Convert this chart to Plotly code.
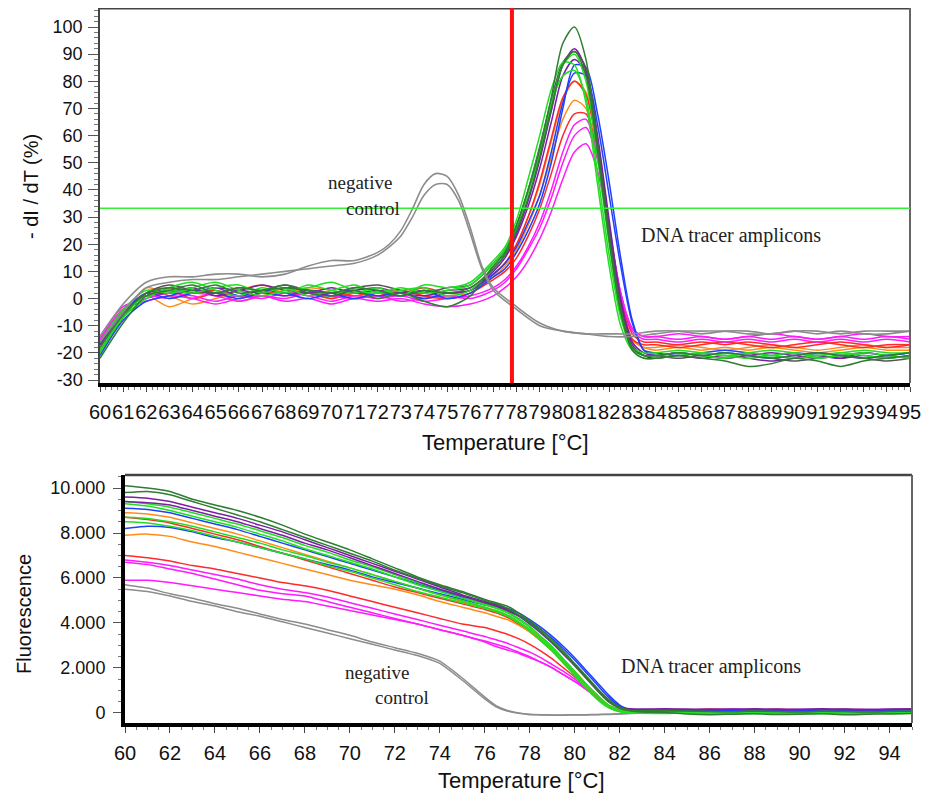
import plotly.graph_objects as go

W, H = 935, 796          # browser window
OFF = 8                  # default page body margin
FW, FH = W - OFF, H - OFF

# ---------------- data: top panel (melting peaks, -dI/dT %) ----------------
T_TOP = [60, 61, 62, 63, 64, 65, 66, 67, 68, 69, 70, 71, 72, 73, 74, 75, 76, 77,
         77.5, 78, 78.5, 79, 79.5, 80, 80.5, 81, 81.5, 82, 82.5, 83, 83.5,
         84, 85, 86, 87, 88, 89, 90, 91, 92, 93, 94, 95]

dkgreen_a = [-22, -9, 1, 3, 5, 2, 4, 3, 5, 2, 1, 3, 0, 2, -1, -3, 1, 12,
             17, 27, 40, 55, 74, 94, 100, 88, 55, 22, -5, -19, -22,
             -22, -21, -22, -23, -25, -24, -22, -23, -25, -23, -22, -21]
dkgreen_b = [-18, -6, 2, 4, 3, 5, 2, 3, 4, 3, 2, 4, 3, 1, 3, 2, 4, 11,
             16, 25, 37, 52, 70, 86, 91, 82, 54, 22, -4, -18, -21,
             -21, -20, -21, -20, -21, -22, -21, -20, -21, -22, -21, -20]
green_a = [-20, -7, 0, 4, 6, 3, 1, 4, 2, 5, 3, 2, 4, 1, 5, 4, 6, 14,
           19, 29, 44, 60, 77, 87, 86, 72, 42, 12, -10, -19, -21,
           -21, -20, -21, -22, -20, -21, -22, -21, -20, -21, -22, -21]
green_b = [-16, -4, 3, 2, 4, 6, 3, 1, 3, 4, 6, 3, 2, 4, 2, 3, 5, 13,
           18, 27, 40, 55, 72, 82, 84, 74, 46, 16, -7, -18, -20,
           -20, -19, -20, -21, -20, -19, -20, -21, -20, -19, -20, -20]
green_c = [-19, -6, 1, 3, 2, 4, 5, 2, 4, 1, 3, 5, 2, 3, 4, 1, 3, 12,
           17, 26, 39, 53, 71, 86, 90, 80, 52, 20, -6, -19, -22,
           -22, -21, -20, -21, -22, -21, -20, -22, -21, -20, -21, -22]
blue_a = [-21, -8, -1, 1, 3, 2, 0, 2, 1, 3, 2, 0, 2, 1, 3, 0, 2, 8,
          11, 17, 25, 35, 50, 70, 86, 85, 68, 43, 15, -8, -19,
          -21, -20, -21, -20, -21, -22, -21, -20, -21, -22, -21, -20]
blue_b = [-17, -5, 2, 0, 2, 4, 1, 3, 2, 0, 2, 3, 1, 2, 0, 2, 3, 9,
          13, 19, 28, 38, 54, 72, 83, 82, 64, 38, 12, -9, -19,
          -20, -21, -20, -19, -20, -21, -20, -21, -22, -20, -21, -20]
purple_a = [-19, -6, 2, 3, 2, 4, 3, 5, 3, 2, 4, 2, 3, 2, 1, 3, 4, 11,
            16, 24, 36, 51, 69, 86, 92, 84, 58, 26, -2, -17, -21,
            -22, -21, -22, -21, -22, -23, -22, -21, -22, -21, -22, -21]
purple_b = [-17, -5, 1, 2, 4, 1, 3, 2, 4, 3, 1, 3, 4, 2, 3, 2, 3, 10,
            15, 23, 34, 48, 65, 82, 88, 83, 60, 29, 0, -16, -20,
            -21, -20, -21, -22, -21, -20, -21, -22, -21, -20, -21, -22]
orange_a = [-18, -6, 4, 1, -2, 0, 3, 5, 2, 4, 3, 1, 2, 3, 1, 2, 3, 9,
            13, 20, 30, 42, 58, 73, 80, 76, 55, 26, 0, -15, -18,
            -19, -18, -19, -18, -19, -18, -19, -20, -19, -18, -19, -19]
orange_b = [-16, -4, 1, -3, 0, 2, -1, 1, 3, 2, 0, 2, 1, 2, 0, 1, 2, 8,
            12, 18, 27, 38, 52, 66, 73, 70, 52, 24, -1, -15, -18,
            -18, -17, -18, -19, -18, -17, -18, -19, -18, -17, -18, -18]
red_a = [-17, -5, 2, 4, 2, 3, 1, 2, 4, 3, 2, 1, 3, 2, 4, 2, 3, 9,
         13, 20, 30, 43, 59, 74, 80, 75, 54, 25, -1, -15, -17,
         -17, -18, -17, -16, -17, -18, -17, -16, -17, -18, -17, -17]
red_b = [-15, -4, 1, 3, 0, 2, 1, 3, 1, 2, 0, 2, 1, 3, 1, 0, 2, 7,
         10, 15, 23, 33, 46, 60, 68, 68, 52, 26, 1, -13, -16,
         -16, -17, -16, -17, -16, -17, -18, -17, -16, -17, -18, -17]
magenta_a = [-14, -3, 0, 2, 1, -1, 1, 0, 2, 1, -1, 1, 0, 1, -1, 0, 1, 4,
             7, 12, 19, 28, 40, 54, 64, 66, 52, 27, 2, -11, -14,
             -14, -15, -14, -15, -14, -15, -14, -15, -14, -15, -14, -15]
magenta_b = [-16, -4, 1, 0, 2, 1, -1, 1, 0, 2, 1, 0, 1, -1, 0, 1, 0, 3,
             6, 11, 18, 26, 37, 50, 60, 63, 51, 26, 2, -12, -15,
             -15, -16, -15, -16, -15, -16, -15, -16, -15, -16, -15, -16]
magenta_c = [-15, -4, -1, 1, 0, -2, 0, 1, -1, 0, -2, 0, -1, 0, -2, -3, -2, 1,
             4, 8, 14, 22, 32, 44, 54, 57, 47, 25, 2, -11, -14,
             -14, -13, -14, -15, -14, -13, -14, -15, -14, -13, -14, -14]
dkgray_a = [-20, -7, 2, 5, 3, 2, 4, 3, 5, 3, 2, 4, 5, 3, 2, 4, 5, 13,
            18, 27, 40, 56, 73, 87, 91, 85, 58, 25, -3, -18, -21,
            -21, -22, -21, -22, -21, -22, -23, -22, -21, -22, -23, -22]

T_NEG = [60, 61, 62, 63, 64, 65, 66, 67, 68, 69, 70, 71, 72, 72.5, 73, 73.5, 74,
         74.5, 75, 75.5, 76, 76.5, 77, 78, 79, 80, 81, 82, 83, 84, 85, 86, 87,
         88, 89, 90, 91, 92, 93, 94, 95]
neg_a = [-14, -2, 6, 8, 8, 9, 9, 8, 9, 12, 14, 14, 17, 20, 25, 33, 42,
         46, 45, 38, 26, 12, 4, -3, -9, -12, -13, -13, -13, -12, -12, -13, -12,
         -12, -13, -12, -12, -13, -12, -12, -12]
neg_b = [-16, -5, 4, 6, 7, 7, 8, 9, 10, 11, 12, 13, 16, 19, 23, 30, 38,
         42, 42, 36, 24, 11, 3, -4, -10, -12, -13, -14, -14, -13, -12, -12, -12,
         -13, -13, -12, -13, -12, -13, -13, -12]

TOP_SERIES = [
    ("#ff8c1a", orange_a), ("#ff8c1a", orange_b),
    ("#ff2a2a", red_a), ("#ff2a2a", red_b),
    ("#ff1aff", magenta_a), ("#ff1aff", magenta_b), ("#ff1aff", magenta_c),
    ("#2040ff", blue_a), ("#2040ff", blue_b),
    ("#7b1fa2", purple_a), ("#7b1fa2", purple_b),
    ("#555555", dkgray_a),
    ("#22dd22", green_a), ("#22dd22", green_b), ("#22dd22", green_c),
    ("#2e7d32", dkgreen_a), ("#2e7d32", dkgreen_b),
]
NEG_SERIES = [neg_a, neg_b]

THRESHOLD_Y = 33.3     # green horizontal threshold
MARKER_T = 77.8        # red vertical cursor

Y_TOP_TICKS = [-30, -20, -10, 0, 10, 20, 30, 40, 50, 60, 70, 80, 90, 100]
Y_TOP_LABELS = ["-30", "-20", "-10", "0", "10", "20", "30", "40", "50",
                "60", "70", "80", "90", "100"]
X_TOP_TICKS = list(range(60, 96))

# ---------------- data: bottom panel (fluorescence) ----------------
T_BOT = [60, 61, 62, 63, 64, 65, 66, 67, 68, 69, 70, 71, 72, 73, 74, 75, 76,
         76.5, 77, 77.5, 78, 78.5, 79, 79.5, 80, 80.5, 81, 81.5, 82, 82.5, 83,
         84, 85, 86, 87, 88, 89, 90, 91, 92, 93, 94, 95]

f_dkgreen_a = [10100, 10000, 9850, 9500, 9250, 9000, 8700, 8350, 7950, 7600, 7250, 6850, 6450, 6050, 5700, 5400, 5050,
               4900, 4750, 4450, 4100, 3700, 3250, 2750, 2200, 1650, 1100, 600, 250, 120, 100,
               120, 80, 60, 50, 80, 60, 40, 70, 60, 40, 60, 80]
f_dkgreen_b = [9800, 9850, 9700, 9400, 9100, 8800, 8500, 8150, 7800, 7450, 7100, 6750, 6350, 6000, 5650, 5350, 5000,
               4850, 4650, 4350, 4000, 3600, 3150, 2650, 2100, 1550, 1000, 500, 200, 80, 40,
               20, -50, -80, -60, -40, -70, -60, -40, -80, -60, -50, -30]
f_purple_a = [9600, 9550, 9400, 9150, 8900, 8650, 8350, 8050, 7700, 7350, 7000, 6650, 6300, 5950, 5600, 5250, 4950,
              4800, 4600, 4350, 4000, 3600, 3150, 2650, 2150, 1600, 1050, 550, 250, 180, 170,
              180, 170, 160, 170, 180, 170, 160, 180, 170, 160, 170, 180]
f_purple_b = [9400, 9350, 9250, 9000, 8750, 8500, 8200, 7900, 7550, 7250, 6900, 6550, 6200, 5850, 5500, 5200, 4900,
              4750, 4550, 4300, 3950, 3550, 3100, 2600, 2100, 1550, 1000, 500, 220, 150, 140,
              150, 140, 150, 160, 150, 140, 150, 160, 150, 140, 150, 160]
f_green_a = [9400, 9300, 9150, 8900, 8650, 8400, 8100, 7800, 7450, 7150, 6800, 6500, 6150, 5800, 5500, 5200, 4850,
             4700, 4500, 4200, 3850, 3400, 2950, 2400, 1850, 1300, 800, 350, 120, 40, 20,
             10, -20, 0, 20, -10, 0, 10, -20, 0, 10, -10, 0]
f_green_b = [9300, 9200, 9000, 8750, 8500, 8250, 7950, 7650, 7300, 7000, 6700, 6400, 6050, 5700, 5400, 5100, 4800,
             4650, 4450, 4150, 3800, 3350, 2900, 2350, 1800, 1250, 750, 330, 100, 30, 10,
             20, 40, 10, -10, 20, 30, 0, 10, 30, 20, 0, 10]
f_green_c = [8700, 8650, 8500, 8300, 8050, 7800, 7550, 7250, 7000, 6700, 6450, 6150, 5850, 5550, 5250, 5000, 4700,
             4550, 4350, 4050, 3700, 3250, 2800, 2250, 1700, 1150, 650, 250, 60, 0, -20,
             -30, -10, -40, -20, -30, -10, -40, -30, -20, -10, -30, -20]
f_green_d = [8500, 8450, 8300, 8100, 7850, 7600, 7350, 7100, 6850, 6550, 6300, 6000, 5700, 5400, 5150, 4900, 4650,
             4500, 4300, 4000, 3650, 3200, 2750, 2200, 1650, 1100, 600, 230, 50, 10, 0,
             -10, 10, -20, 0, -10, 10, -20, 0, 10, -10, 0, -20]
f_blue_a = [9100, 9050, 8900, 8650, 8400, 8150, 7850, 7550, 7250, 6950, 6650, 6350, 6050, 5750, 5450, 5150, 4900,
            4800, 4650, 4450, 4150, 3800, 3400, 2950, 2450, 1900, 1350, 800, 350, 120, 80,
            90, 80, 100, 90, 80, 90, 100, 80, 90, 100, 90, 80]
f_blue_b = [8200, 8300, 8250, 8050, 7800, 7600, 7350, 7100, 6850, 6600, 6350, 6050, 5800, 5550, 5300, 5050, 4800,
            4700, 4550, 4350, 4050, 3700, 3300, 2850, 2350, 1800, 1250, 700, 300, 100, 70,
            80, 70, 90, 80, 70, 80, 90, 70, 80, 90, 80, 70]
f_orange_a = [8900, 8850, 8700, 8450, 8200, 7950, 7650, 7350, 7050, 6750, 6450, 6150, 5850, 5550, 5250, 4950, 4700,
              4550, 4350, 4050, 3700, 3300, 2850, 2350, 1850, 1300, 800, 350, 150, 120, 110,
              120, 110, 130, 120, 110, 120, 130, 110, 120, 130, 120, 110]
f_orange_b = [7900, 7950, 7850, 7600, 7400, 7150, 6900, 6650, 6400, 6150, 5900, 5700, 5500, 5250, 4950, 4700, 4450,
              4300, 4150, 3900, 3600, 3200, 2750, 2250, 1750, 1250, 750, 320, 130, 100, 90,
              100, 90, 110, 100, 90, 100, 110, 90, 100, 110, 100, 90]
f_red_a = [8700, 8600, 8450, 8200, 7950, 7700, 7400, 7100, 6800, 6500, 6200, 5900, 5600, 5350, 5100, 4850, 4600,
           4450, 4250, 3950, 3600, 3200, 2750, 2250, 1750, 1250, 750, 320, 150, 130, 120,
           150, 130, 170, 140, 120, 160, 140, 130, 160, 140, 130, 150]
f_red_b = [7000, 6900, 6750, 6550, 6400, 6200, 6000, 5800, 5650, 5450, 5200, 4950, 4700, 4450, 4200, 3950, 3800,
           3650, 3500, 3300, 3050, 2750, 2400, 2000, 1600, 1150, 700, 330, 150, 120, 110,
           130, 120, 110, 140, 120, 130, 110, 120, 140, 130, 120, 130]
f_magenta_a = [6800, 6700, 6550, 6350, 6150, 5950, 5700, 5500, 5350, 5150, 4900, 4650, 4400, 4150, 3900, 3650, 3400,
               3250, 3100, 2900, 2700, 2450, 2150, 1850, 1500, 1100, 700, 330, 140, 120, 110,
               120, 110, 130, 120, 110, 120, 130, 110, 120, 130, 120, 110]
f_magenta_b = [6700, 6600, 6400, 6200, 5950, 5700, 5450, 5300, 5200, 4950, 4700, 4450, 4200, 3950, 3700, 3450, 3200,
               3050, 2900, 2700, 2500, 2250, 2000, 1700, 1400, 1050, 680, 320, 130, 110, 100,
               110, 100, 120, 110, 100, 110, 120, 100, 110, 120, 110, 100]
f_magenta_c = [5900, 5900, 5800, 5650, 5500, 5350, 5200, 5050, 4950, 4750, 4550, 4350, 4150, 3950, 3700, 3450, 3150,
               2950, 2800, 2650, 2450, 2250, 2000, 1700, 1400, 1050, 700, 330, 140, 120, 110,
               120, 110, 130, 120, 110, 120, 130, 110, 120, 130, 120, 110]
f_neg_a = [5700, 5550, 5300, 5100, 4850, 4650, 4400, 4150, 3950, 3700, 3450, 3150, 2900, 2650, 2300, 1550, 700,
           320, 110, 0, -60, -80, -90, -90, -80, -80, -70, -60, -40, -20, 0,
           20, 30, 10, 20, 30, 10, 20, 30, 20, 10, 20, 30]
f_neg_b = [5500, 5400, 5200, 4950, 4750, 4500, 4300, 4050, 3800, 3550, 3300, 3050, 2800, 2550, 2200, 1450, 620,
           270, 80, -20, -80, -90, -100, -100, -90, -90, -80, -70, -50, -30, -10,
           10, 20, 0, 10, 20, 0, 10, 20, 10, 0, 10, 20]

BOT_SERIES = [
    ("#8c8c8c", f_neg_a), ("#8c8c8c", f_neg_b),
    ("#ff1aff", f_magenta_a), ("#ff1aff", f_magenta_b), ("#ff1aff", f_magenta_c),
    ("#ff2a2a", f_red_a), ("#ff2a2a", f_red_b),
    ("#ff8c1a", f_orange_a), ("#ff8c1a", f_orange_b),
    ("#2040ff", f_blue_a), ("#2040ff", f_blue_b),
    ("#22dd22", f_green_a), ("#22dd22", f_green_b), ("#22dd22", f_green_c), ("#22dd22", f_green_d),
    ("#7b1fa2", f_purple_a), ("#7b1fa2", f_purple_b),
    ("#2e7d32", f_dkgreen_a), ("#2e7d32", f_dkgreen_b),
]

Y_BOT_TICKS = [0, 2000, 4000, 6000, 8000, 10000]
Y_BOT_LABELS = ["0", "2.000", "4.000", "6.000", "8.000", "10.000"]
X_BOT_TICKS = list(range(60, 96, 2))

# ---------------- figure ----------------
fig = go.Figure()

for color, vals in TOP_SERIES:
    fig.add_trace(go.Scatter(x=T_TOP, y=vals, mode="lines", xaxis="x", yaxis="y",
                             line=dict(color=color, width=1.5, shape="spline", smoothing=0.8),
                             showlegend=False, hoverinfo="skip"))
for vals in NEG_SERIES:
    fig.add_trace(go.Scatter(x=T_NEG, y=vals, mode="lines", xaxis="x", yaxis="y",
                             line=dict(color="#8c8c8c", width=1.6, shape="spline", smoothing=0.8),
                             showlegend=False, hoverinfo="skip"))
for color, vals in BOT_SERIES:
    fig.add_trace(go.Scatter(x=T_BOT, y=vals, mode="lines", xaxis="x2", yaxis="y2",
                             line=dict(color=color, width=1.5, shape="spline", smoothing=0.5),
                             showlegend=False, hoverinfo="skip"))


def px(xp):
    return (xp - OFF) / FW


def py(yp):
    return 1 - (yp - OFF) / FH


SANS = "Liberation Sans, Arial, sans-serif"
SERIF = "Liberation Serif, Times New Roman, serif"

fig.update_layout(
    width=FW, height=FH,
    margin=dict(l=0, r=0, t=0, b=0),
    paper_bgcolor="white", plot_bgcolor="white",
    showlegend=False,
    font=dict(family=SANS, color="#111"),
    xaxis=dict(domain=[px(100), px(910)], range=[60, 95], anchor="y",
               tickmode="array", tickvals=X_TOP_TICKS, ticktext=[str(v) for v in X_TOP_TICKS],
               tickangle=0, ticklabelstandoff=3,
               tickfont=dict(size=20, family=SANS, color="#111"),
               ticks="outside", ticklen=5, tickwidth=1, tickcolor="#444",
               minor=dict(dtick=0.25, ticks="outside", ticklen=3, tickcolor="#777"),
               showline=True, linewidth=4, linecolor="#000", showgrid=False, zeroline=False,
               automargin=False, fixedrange=True),
    yaxis=dict(domain=[py(383), py(8)], range=[-31.1, 107], anchor="x",
               tickmode="array", tickvals=Y_TOP_TICKS, ticktext=Y_TOP_LABELS,
               ticklabelstandoff=2,
               tickfont=dict(size=18, family=SANS, color="#111"),
               ticks="outside", ticklen=10, tickwidth=1, tickcolor="#555",
               minor=dict(dtick=2, ticks="outside", ticklen=4, tickcolor="#777"),
               showline=True, linewidth=1.5, linecolor="#444", showgrid=False, zeroline=False,
               automargin=False, fixedrange=True),
    xaxis2=dict(domain=[px(125), px(912)], range=[60, 95], anchor="y2",
                tickmode="array", tickvals=X_BOT_TICKS, ticktext=[str(v) for v in X_BOT_TICKS],
                tickangle=0, ticklabelstandoff=3,
                tickfont=dict(size=20, family=SANS, color="#111"),
                ticks="outside", ticklen=6, tickwidth=1, tickcolor="#444",
                minor=dict(dtick=0.5, ticks="outside", ticklen=3, tickcolor="#777"),
                showline=True, linewidth=4, linecolor="#000", showgrid=False, zeroline=False,
                automargin=False, fixedrange=True),
    yaxis2=dict(domain=[py(723), py(475)], range=[-450, 10580], anchor="x2",
                tickmode="array", tickvals=Y_BOT_TICKS, ticktext=Y_BOT_LABELS,
                ticklabelstandoff=4,
                tickfont=dict(size=18, family=SANS, color="#111"),
                ticks="outside", ticklen=8, tickwidth=1, tickcolor="#555",
                minor=dict(dtick=500, ticks="outside", ticklen=3, tickcolor="#777"),
                showline=True, linewidth=4, linecolor="#000", showgrid=False, zeroline=False,
                automargin=False, fixedrange=True),
)

shapes = [
    dict(type="line", xref="x domain", yref="y domain", x0=0, x1=1, y0=1, y1=1,
         line=dict(color="#444", width=3)),
    dict(type="line", xref="x domain", yref="y domain", x0=1, x1=1, y0=0, y1=1,
         line=dict(color="#666", width=2)),
    dict(type="line", xref="x2 domain", yref="y2 domain", x0=0, x1=1, y0=1, y1=1,
         line=dict(color="#444", width=2.5)),
    dict(type="line", xref="x2 domain", yref="y2 domain", x0=1, x1=1, y0=0, y1=1,
         line=dict(color="#666", width=2)),
    dict(type="line", xref="x domain", yref="y", x0=0, x1=1, y0=THRESHOLD_Y, y1=THRESHOLD_Y,
         line=dict(color="#33ee33", width=1.5)),
    dict(type="line", xref="x", yref="y domain", x0=MARKER_T, x1=MARKER_T, y0=0, y1=1,
         line=dict(color="#ff1010", width=4)),
]
fig.update_layout(shapes=shapes)

ann = [
    dict(text="- dI / dT (%)", x=px(31), y=py(187), textangle=-90, font=dict(size=20, family=SANS)),
    dict(text="Temperature [°C]", x=px(506), y=py(443), font=dict(size=22, family=SANS)),
    dict(text="Fluorescence", x=px(24), y=py(614), textangle=-90, font=dict(size=20, family=SANS)),
    dict(text="Temperature [°C]", x=px(521), y=py(780), font=dict(size=22, family=SANS)),
    dict(text="negative", x=px(360), y=py(183), font=dict(size=19, family=SERIF, color="#222")),
    dict(text="control", x=px(373), y=py(208), font=dict(size=19, family=SERIF, color="#222")),
    dict(text="DNA tracer amplicons", x=px(731), y=py(236), font=dict(size=20, family=SERIF, color="#222")),
    dict(text="negative", x=px(377), y=py(672), font=dict(size=19, family=SERIF, color="#222")),
    dict(text="control", x=px(402), y=py(697), font=dict(size=19, family=SERIF, color="#222")),
    dict(text="DNA tracer amplicons", x=px(711), y=py(666), font=dict(size=20, family=SERIF, color="#222")),
]
for a in ann:
    a.update(xref="paper", yref="paper", showarrow=False, xanchor="center", yanchor="middle")
fig.update_layout(annotations=ann)

fig.write_html("out.html")
